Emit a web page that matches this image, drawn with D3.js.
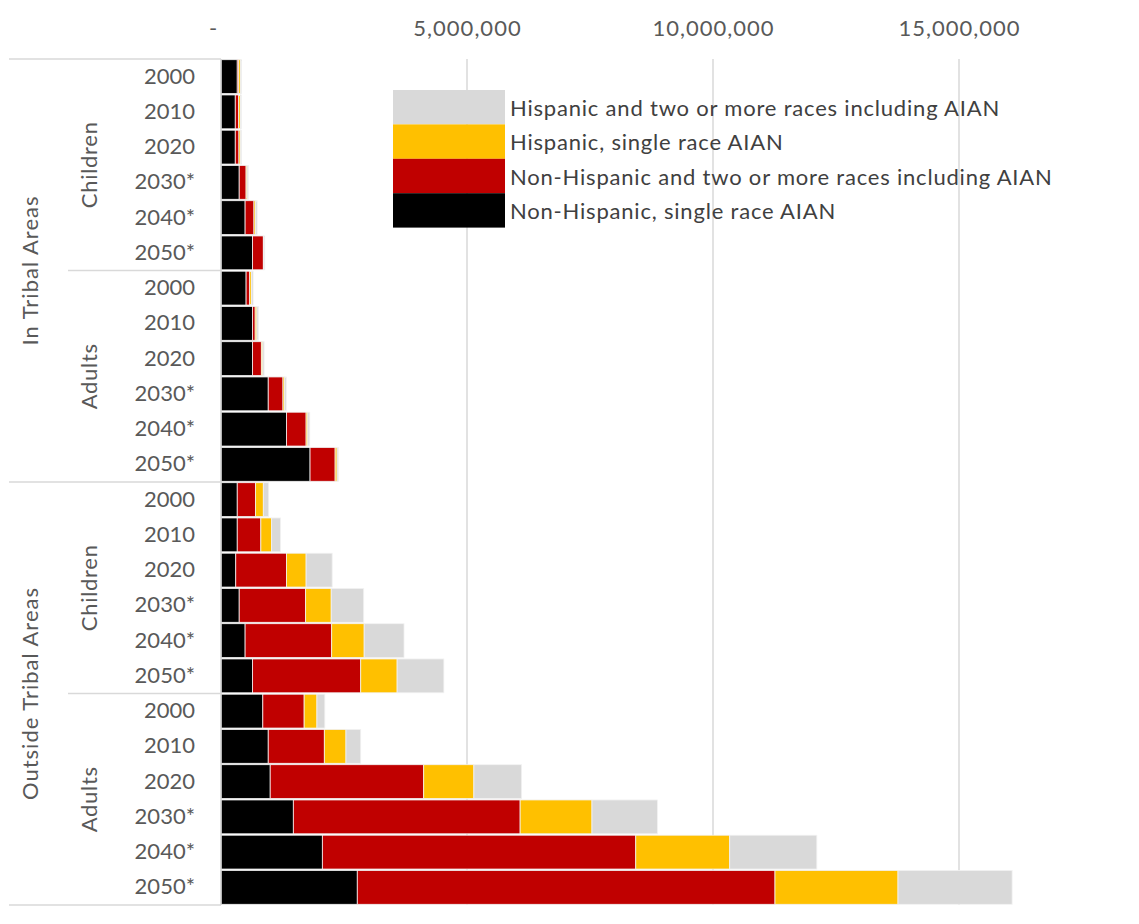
<!DOCTYPE html>
<html><head><meta charset="utf-8">
<script src="https://cdn.jsdelivr.net/npm/d3@7"></script>
<style>body{margin:0;background:#fff;} text{font-family:Lato,"Open Sans",sans-serif;}</style>
</head><body>
<svg id="c" width="1139" height="924"></svg>
<script>
const regions = ["In Tribal Areas","Outside Tribal Areas"];
const groups = ["Children","Adults"];
const years = ["2000","2010","2020","2030*","2040*","2050*"];
const seriesNames = ["Non-Hispanic, single race AIAN","Non-Hispanic and two or more races including AIAN","Hispanic, single race AIAN","Hispanic and two or more races including AIAN"];
const colors = ["#000000","#c00000","#ffc000","#d9d9d9"];
const nhSingle = [330000,290000,290000,370000,490000,640000, 510000,640000,640000,960000,1330000,1810000, 330000,330000,300000,370000,490000,640000, 850000,960000,1000000,1470000,2060000,2770000];
const nhMulti  = [30000,70000,75000,140000,180000,220000, 75000,55000,180000,300000,400000,510000, 370000,480000,1030000,1350000,1760000,2200000, 840000,1140000,3120000,4610000,6370000,8490000];
const hSingle  = [40000,35000,35000,20000,35000,10000, 35000,35000,30000,35000,35000,40000, 160000,220000,400000,520000,660000,740000, 260000,440000,1020000,1460000,1910000,2500000];
const hMulti   = [20000,20000,20000,27000,30000,20000, 33000,33000,27000,33000,40000,27000, 110000,180000,530000,660000,810000,950000, 160000,300000,970000,1330000,1770000,2320000];
const tickValues = [0,5000000,10000000,15000000];

const rows = [];
regions.forEach((r,ri)=>groups.forEach((g,gi)=>years.forEach((yv,yi)=>{
  const i = rows.length;
  rows.push({id:i, region:r, group:g, year:yv, s0:nhSingle[i], s1:nhMulti[i], s2:hSingle[i], s3:hMulti[i]});
})));

const svg = d3.select("#c");
const x = d3.scaleLinear().domain([0,5000000]).range([221,467]);
const plotTop = 59, plotBottom = 905;
const y = d3.scaleBand().domain(rows.map(d=>d.id)).range([plotTop,plotBottom]).paddingInner(0.04).paddingOuter(0.02);
const labelColor = "#595959";

// gridlines
svg.append("g").selectAll("line").data(tickValues.filter(v=>v>0)).join("line")
  .attr("x1",d=>x(d)).attr("x2",d=>x(d)).attr("y1",plotTop).attr("y2",plotBottom)
  .attr("stroke","#d9d9d9").attr("stroke-width",1.5);

// stacked bars
const stack = d3.stack().keys(["s0","s1","s2","s3"])(rows);
svg.append("g").selectAll("g").data(stack).join("g")
  .attr("fill",(d,i)=>colors[i])
  .selectAll("rect").data(d=>d).join("rect")
  .attr("x",d=>x(d[0])).attr("width",d=>Math.max(0,x(d[1])-x(d[0])))
  .attr("y",d=>y(d.data.id)).attr("height",y.bandwidth())
  .attr("stroke","#f2f2f2").attr("stroke-width",0.8);

// category axis line
svg.append("line").attr("x1",221).attr("x2",221).attr("y1",plotTop).attr("y2",plotBottom)
  .attr("stroke","#d0d0d0").attr("stroke-width",1.5);

// top value axis
const xa = svg.append("g").attr("transform","translate(0,36)")
  .call(d3.axisTop(x).tickValues(tickValues).tickSize(0).tickPadding(0)
    .tickFormat(d=>d===0?"-":d3.format(",")(d)));
xa.select(".domain").remove();
xa.selectAll("text").attr("font-size",22).attr("fill",labelColor)
  .attr("letter-spacing",1)
  .attr("font-family","Lato,'Open Sans',sans-serif")
  .attr("dx",d=>d===0?-8:0);

// year labels
const ya = svg.append("g").attr("transform","translate(221,0)")
  .call(d3.axisLeft(y).tickSize(0).tickPadding(26).tickFormat(i=>rows[i].year));
ya.select(".domain").remove();
ya.selectAll("text").attr("font-size",22).attr("fill",labelColor)
  .attr("font-family","Lato,'Open Sans',sans-serif");

// hierarchical separators
const rowH = (plotBottom-plotTop)/rows.length;
const sepColor = "#d9d9d9";
const seps = [
  {y:plotTop, x1:9}, {y:plotTop+6*rowH, x1:68}, {y:plotTop+12*rowH, x1:9}, {y:plotTop+18*rowH, x1:68}, {y:plotBottom, x1:9}
];
svg.append("g").selectAll("line").data(seps).join("line")
  .attr("x1",d=>d.x1).attr("x2",221).attr("y1",d=>d.y).attr("y2",d=>d.y)
  .attr("stroke",sepColor).attr("stroke-width",1.5);

// group labels
const grpLabels = [];
regions.forEach((r,ri)=>groups.forEach((g,gi)=>{
  const i0 = ri*12+gi*6;
  grpLabels.push({text:g, cy: plotTop+(i0+3)*rowH});
}));
svg.append("g").selectAll("text").data(grpLabels).join("text")
  .attr("transform",d=>`translate(88,${d.cy}) rotate(-90)`)
  .attr("text-anchor","middle").attr("dominant-baseline","central")
  .attr("font-size",22).attr("letter-spacing",0.7).attr("fill",labelColor).text(d=>d.text);

svg.append("g").selectAll("text").data(regions).join("text")
  .attr("transform",(d,i)=>`translate(29,${plotTop+(i*12+6)*rowH}) rotate(-90)`)
  .attr("text-anchor","middle").attr("dominant-baseline","central")
  .attr("font-size",22).attr("letter-spacing",1).attr("fill",labelColor).text(d=>d);

// legend
const legOrder = [3,2,1,0];
const lg = svg.append("g").attr("transform","translate(393,90)");
const lh = 34.4;
lg.selectAll("rect").data(legOrder).join("rect")
  .attr("x",0).attr("y",(d,i)=>i*lh).attr("width",112).attr("height",lh)
  .attr("fill",d=>colors[d]);
lg.selectAll("text").data(legOrder).join("text")
  .attr("x",117).attr("y",(d,i)=>i*lh+lh/2).attr("dominant-baseline","central")
  .attr("font-size",22).attr("letter-spacing",0.8).attr("fill","#404040").text(d=>seriesNames[d]);
</script>
</body></html>
